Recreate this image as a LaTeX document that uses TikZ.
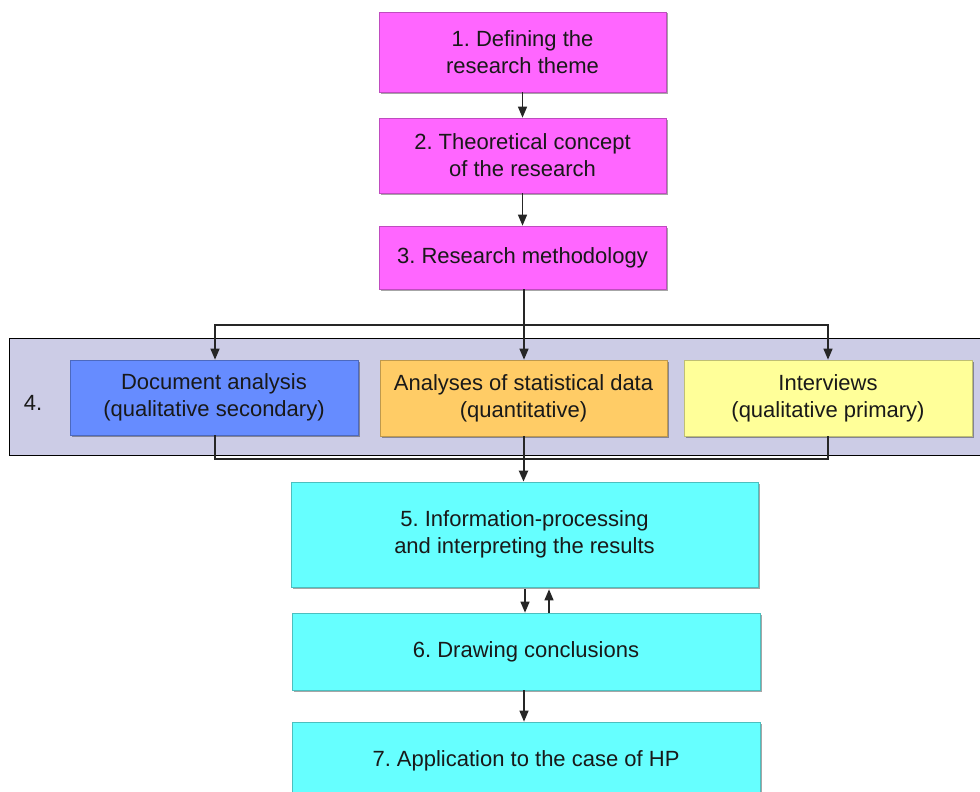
\documentclass[tikz,border=0pt]{standalone}
\usepackage{fontspec}
\setmainfont{Liberation Sans}
\usetikzlibrary{arrows.meta,shadows}
\definecolor{cmag}{HTML}{FF66FF}
\definecolor{clav}{HTML}{CCCCE6}
\definecolor{cblue}{HTML}{668CFF}
\definecolor{corange}{HTML}{FFCC66}
\definecolor{cyellow}{HTML}{FFFF99}
\definecolor{ccyan}{HTML}{66FFFF}
\begin{document}
\frenchspacing
\begin{tikzpicture}[x=1pt,y=-1pt,
  box/.style={draw=#1!75!black, fill=#1, line width=0.7pt, inner sep=0pt, align=center,
    font=\fontsize{22}{27}\selectfont\frenchspacing, text=black!90,
    drop shadow={shadow xshift=1.5pt, shadow yshift=-1.5pt, opacity=0.35, fill=black}},
  line/.style={draw=black!85, line width=1.3pt},
  arr/.style={line, -{Triangle[length=11pt,width=9pt]}}]
\path[use as bounding box] (0,0) rectangle (980,792);
\clip (0,0) rectangle (980,792);
\fill[white] (0,0) rectangle (980,792);

\node[draw=black, line width=1pt, fill=clav, minimum width=971pt, minimum height=117pt, inner sep=0pt] (grp) at (494.5,396.5) {};
\node[font=\fontsize{22}{27}\selectfont, text=black!90] (four) at (33,403) {4.};

\node[box=cmag, minimum width=287pt, minimum height=80pt] (b1) at (522.5,52) {1. Defining the\\research theme};
\node[box=cmag, minimum width=287pt, minimum height=75pt] (b2) at (522.5,155.5) {2. Theoretical concept\\of the research};
\node[box=cmag, minimum width=287pt, minimum height=63pt] (b3) at (522.5,257.5) {3. Research methodology};

\node[box=cblue, minimum width=288pt, minimum height=75pt] (doc) at (214,397.5) {Document analysis\\(qualitative secondary)};
\node[box=corange, minimum width=287pt, minimum height=76pt] (ana) at (523.5,398) {Analyses of statistical data\\(quantitative)};
\node[box=cyellow, minimum width=288pt, minimum height=76pt] (int) at (828,398) {Interviews\\(qualitative primary)};

\node[box=ccyan, minimum width=467pt, minimum height=105pt] (b5) at (524.5,534.5) {5. Information-processing\\and interpreting the results};
\node[box=ccyan, minimum width=468pt, minimum height=77pt] (b6) at (526,651.5) {6. Drawing conclusions};
\node[box=ccyan, minimum width=468pt, minimum height=78pt] (b7) at (526,761) {7. Application to the case of HP};

\draw[arr] (b1.south) -- (b2.north);
\draw[arr] (b2.south) -- (b3.north);

\coordinate (split) at (524,325);
\draw[line, line width=2pt] ([xshift=1.5pt]b3.south) -- (split);
\draw[arr] (split) -| ([xshift=1pt]doc.north);
\draw[arr] (split) -| (int.north);
\draw[arr] (split) -- (split |- ana.north);

\coordinate (join) at (524,459);
\draw[line] ([xshift=1pt]doc.south) |- (join);
\draw[line] (int.south) |- (join);
\draw[arr, line width=2pt] (ana.south) -- (ana.south |- b5.north);

\draw[arr] ([xshift=0.5pt,yshift=-2pt]b5.south) -- ([xshift=0.5pt]b5.south |- b6.north);
\draw[arr] ([xshift=24.5pt]b5.south |- b6.north) -- ([xshift=24.5pt,yshift=-2pt]b5.south);
\draw[arr] ([xshift=-2pt]b6.south) -- ([xshift=-2pt]b6.south |- b7.north);
\end{tikzpicture}
\end{document}
